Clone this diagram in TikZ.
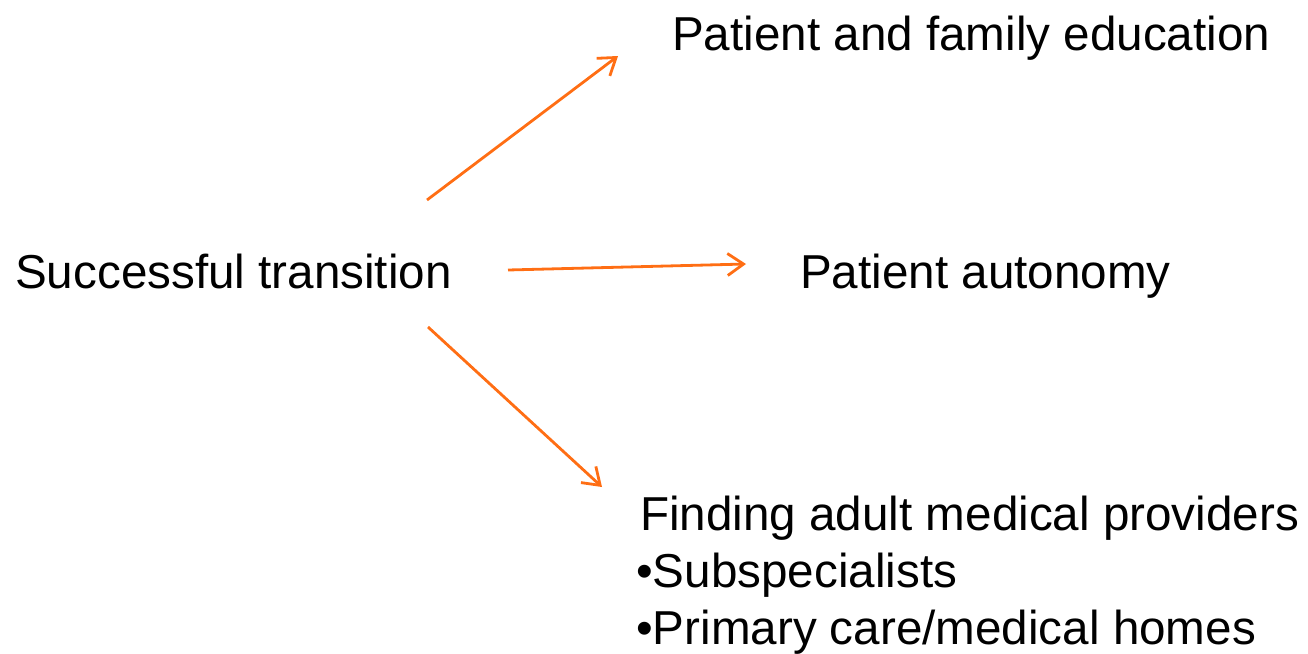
\documentclass[tikz,border=0pt]{standalone}
\usepackage{fontspec}
\setmainfont{Liberation Sans}
\usetikzlibrary{arrows.meta}
\definecolor{arroworange}{RGB}{255,110,20}
\begin{document}
\begin{tikzpicture}[x=1pt,y=-1pt,
                txt/.style={anchor=base west,inner sep=0pt,font=\fontsize{47.6}{57}\selectfont},
                link/.style={draw=arroworange,line width=2.8pt},
                >={Straight Barb[length=16pt,width=22pt]}]
                \useasboundingbox (0,0) rectangle (1308,653);
                \node[txt](trans) at (15,288){Successful transition};
                \node[txt](educ) at (672,50){Patient and family education};
                \node[txt](auto) at (800,288){Patient autonomy};
                \node[txt](find) at (640,530){Finding adult medical providers};
                \node[txt](subs) at (636,587){\textbullet Subspecialists};
                \node[txt](prim) at (636,644){\textbullet Primary care/medical homes};
                \coordinate(t1) at (427,200);
                \coordinate(t2) at (508,270);
                \coordinate(t3) at (428,327);
                \coordinate(e1) at (618,56);
                \coordinate(e2) at (746,264);
                \coordinate(e3) at (602,487);
                \draw[link,->](t1) -- (e1);
                \draw[link,->](t2) -- (e2);
                \draw[link,->](t3) -- (e3);
            \end{tikzpicture}
\end{document}
